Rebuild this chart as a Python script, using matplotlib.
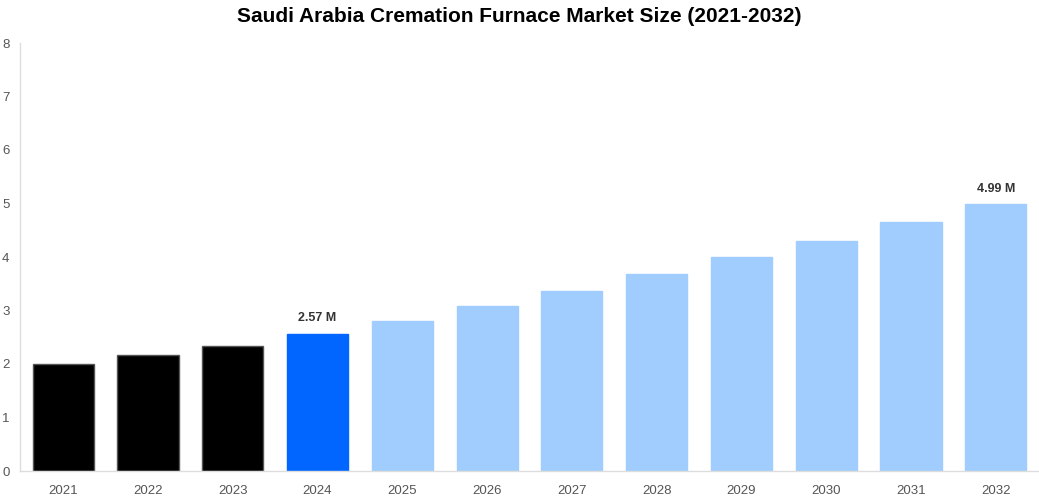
import matplotlib.pyplot as plt

years = ['2021', '2022', '2023', '2024', '2025', '2026', '2027', '2028',
         '2029', '2030', '2031', '2032']
values = [2.00, 2.17, 2.34, 2.57, 2.80, 3.08, 3.36, 3.68, 4.00, 4.30, 4.65, 4.99]
colors = ['#000000'] * 3 + ['#0066ff'] + ['#a0cdfd'] * 8
edges = ['#555555'] * 3 + ['#0066ff'] + ['#a0cdfd'] * 8
labels = {3: '2.57 M', 11: '4.99 M'}

plt.rcParams['font.family'] = ['Liberation Sans', 'DejaVu Sans']

fig = plt.figure(figsize=(10.39, 5.00), dpi=100)
ax = fig.add_axes([20 / 1039, 1 - 471 / 500, 1 - 20 / 1039, (471 - 43) / 500])

x = range(len(years))
ax.bar(x, values, width=0.72, color=colors, edgecolor=edges, linewidth=1)

for i, txt in labels.items():
    ax.text(i, values[i] + 0.17, txt, ha='center', va='bottom',
            fontsize=9, fontweight='bold', color='#333333')

ax.set_xlim(-0.51, 11.51)
ax.set_ylim(0, 8)
ax.set_xticks(list(x))
ax.set_xticklabels(years)
ax.set_yticks(range(9))

for s in ['top', 'right']:
    ax.spines[s].set_visible(False)
for s in ['left', 'bottom']:
    ax.spines[s].set_color('#dddddd')
    ax.spines[s].set_linewidth(1)

ax.tick_params(axis='both', length=0, labelsize=9.5, colors='#555555')
ax.tick_params(axis='x', pad=10)
ax.tick_params(axis='y', pad=10)
for lbl in ax.get_yticklabels():
    lbl.set_horizontalalignment('left')
    lbl.set_x(-20 / 1039 / (1 - 20 / 1039) + 0.002)
ax.tick_params(axis='y', pad=0)

fig.suptitle('Saudi Arabia Cremation Furnace Market Size (2021-2032)',
             x=0.5, y=0.985, fontsize=15, fontweight='bold', color='#000000')

fig.savefig('out.png', dpi=100)
